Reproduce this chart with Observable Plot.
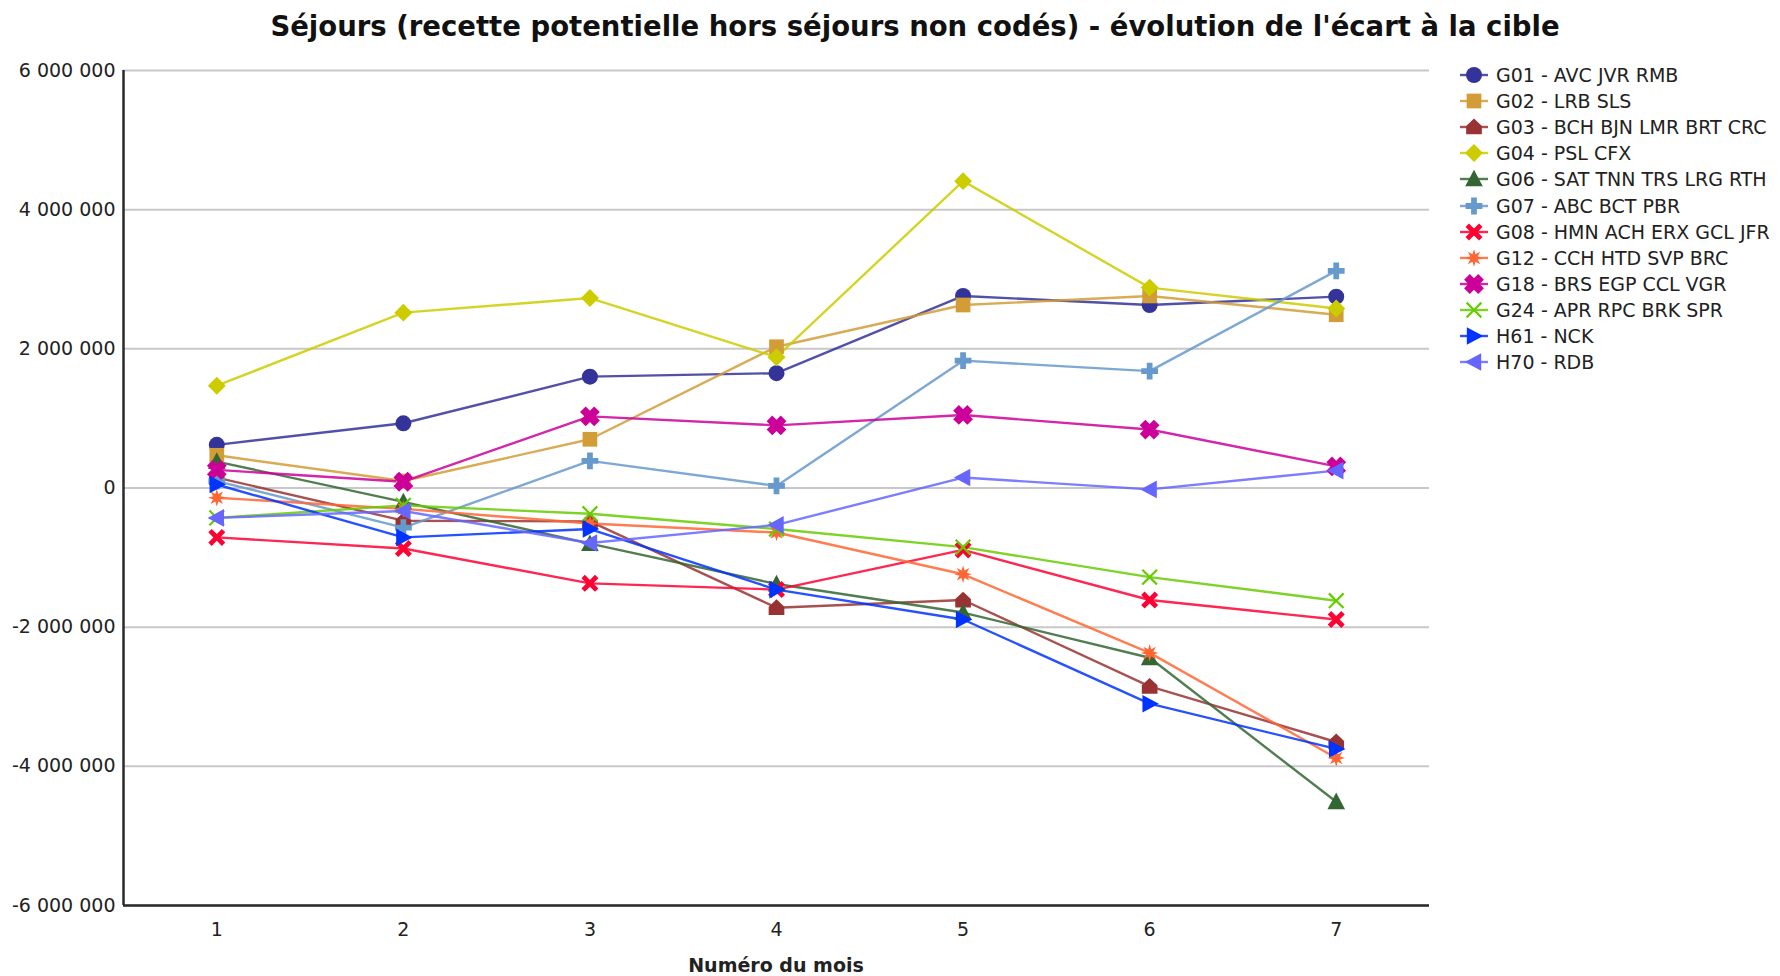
<!DOCTYPE html>
<html>
<head>
<meta charset="utf-8">
<script src="https://cdn.jsdelivr.net/npm/d3@7"></script>
<script src="https://cdn.jsdelivr.net/npm/@observablehq/plot@0.6"></script>
<style>
  html, body { margin: 0; padding: 0; background: #fff; }
  body { width: 1780px; height: 976px; position: relative; overflow: hidden; font-family: "DejaVu Sans", sans-serif; }
  #title { position: absolute; left: 0; top: 0; width: 1780px; text-align: center; padding-left: 50px; box-sizing: border-box;
           font-weight: bold; font-size: 27.5px; line-height: 52px; height: 50px; color: #111; }
  #chart { position: absolute; left: 0; top: 50px; }
  #xlabel { position: absolute; left: 676px; width: 200px; top: 952px; text-align: center; font-weight: bold; font-size: 19px; color: #222; line-height: 26px; }
  #legend { position: absolute; left: 1458px; top: 62px; }
  .row { height: 26.1px; display: flex; align-items: center; font-size: 19px; color: #222; white-space: nowrap; }
  .row svg { margin-right: 6px; }
</style>
</head>
<body>
<div id="title">Séjours (recette potentielle hors séjours non codés) - évolution de l'écart à la cible</div>
<div id="chart"></div>
<div id="xlabel">Numéro du mois</div>
<div id="legend"></div>
<script>
// ---- data ----
const months = [1, 2, 3, 4, 5, 6, 7];
const yTicks = [-6000000, -4000000, -2000000, 0, 2000000, 4000000, 6000000];
const seriesNames = [
  "G01 - AVC JVR RMB", "G02 - LRB SLS", "G03 - BCH BJN LMR BRT CRC", "G04 - PSL CFX",
  "G06 - SAT TNN TRS LRG RTH", "G07 - ABC BCT PBR", "G08 - HMN ACH ERX GCL JFR",
  "G12 - CCH HTD SVP BRC", "G18 - BRS EGP CCL VGR", "G24 - APR RPC BRK SPR",
  "H61 - NCK", "H70 - RDB"
];
const G01 = [620000, 930000, 1600000, 1650000, 2760000, 2630000, 2750000];
const G02 = [470000, 100000, 700000, 2030000, 2630000, 2760000, 2490000];
const G03 = [150000, -470000, -480000, -1720000, -1610000, -2850000, -3650000];
const G04 = [1470000, 2520000, 2730000, 1880000, 4410000, 2880000, 2580000];
const G06 = [380000, -200000, -800000, -1380000, -1790000, -2440000, -4510000];
const G07 = [100000, -570000, 390000, 30000, 1830000, 1680000, 3120000];
const G08 = [-710000, -870000, -1370000, -1460000, -890000, -1610000, -1890000];
const G12 = [-140000, -300000, -510000, -640000, -1240000, -2370000, -3880000];
const G18 = [260000, 90000, 1030000, 900000, 1050000, 840000, 310000];
const G24 = [-430000, -250000, -370000, -590000, -850000, -1280000, -1620000];
const H61 = [50000, -710000, -590000, -1460000, -1890000, -3100000, -3750000];
const H70 = [-430000, -330000, -790000, -530000, 150000, -20000, 250000];
const seriesValues = [G01, G02, G03, G04, G06, G07, G08, G12, G18, G24, H61, H70];

// ---- styles ----
const colors = ["#333399", "#d29c36", "#993333", "#cccc00", "#336633", "#6699cc",
                "#ff0033", "#ff6633", "#cc0099", "#66cc00", "#0033ff", "#6666ff"];

function poly(pts) {
  return { draw(ctx, size) {
    const r = Math.sqrt(size / Math.PI);
    pts.forEach(([x, y], i) => i ? ctx.lineTo(x * r, y * r) : ctx.moveTo(x * r, y * r));
    ctx.closePath();
  }};
}
function plusPts(w, l, rot) {
  const base = [[-w,-l],[w,-l],[w,-w],[l,-w],[l,w],[w,w],[w,l],[-w,l],[-w,w],[-l,w],[-l,-w],[-w,-w]];
  const c = Math.cos(rot), s = Math.sin(rot);
  return base.map(([x, y]) => [x * c - y * s, x * s + y * c]);
}
function starPts(n, ro, ri) {
  const p = [];
  for (let i = 0; i < 2 * n; i++) {
    const a = Math.PI * i / n - Math.PI / 2;
    const r = i % 2 ? ri : ro;
    p.push([r * Math.cos(a), r * Math.sin(a)]);
  }
  return p;
}
const symbols = [
  d3.symbolCircle,
  poly([[-0.92,-0.92],[0.92,-0.92],[0.92,0.92],[-0.92,0.92]]),
  poly([[0,-1.05],[0.98,-0.12],[0.98,0.92],[-0.98,0.92],[-0.98,-0.12]]),
  poly([[0,-1.12],[1.12,0],[0,1.12],[-1.12,0]]),
  poly([[0,-1.15],[1.1,0.92],[-1.1,0.92]]),
  poly(plusPts(0.36, 1.05, 0)),
  poly(plusPts(0.3, 1.2, Math.PI / 4)),
  poly(starPts(8, 1.1, 0.5)),
  poly(plusPts(0.5, 1.25, Math.PI / 4)),
  poly(plusPts(0.14, 1.3, Math.PI / 4)),
  poly([[1.15,0],[-0.9,-1.1],[-0.9,1.1]]),
  poly([[-1.15,0],[0.9,-1.1],[0.9,1.1]])
];

const loc = d3.formatLocale({ decimal: ",", thousands: " ", grouping: [3], currency: ["", "€"], minus: "-" });
const fmt = loc.format(",d");

const rows = seriesNames.map((name, i) =>
  months.map((m, j) => ({ series: name, month: m, value: seriesValues[i][j] })));

const lineMarks = rows.map((data, i) =>
  Plot.line(data, { x: "month", y: "value", stroke: colors[i], strokeWidth: 2.4, strokeOpacity: 0.85 }));
const dotMarks = rows.map((data, i) =>
  Plot.dot(data, { x: "month", y: "value", fill: colors[i], stroke: "none", r: 8, symbol: symbols[i] }));

const chart = Plot.plot({
  width: 1780,
  height: 926,
  marginLeft: 123,
  marginRight: 351,
  marginTop: 20,
  marginBottom: 71,
  style: { fontFamily: "DejaVu Sans, sans-serif", fontSize: "19px", color: "#222", background: "#fff" },
  x: { domain: [0.5, 7.5] },
  y: { domain: [-6000000, 6000000] },
  marks: [
    Plot.gridY(yTicks, { stroke: "#c8c8c8", strokeOpacity: 1, strokeWidth: 2 }),
    Plot.axisY(yTicks, { tickSize: 0, tickPadding: 8, tickFormat: fmt, label: null, fontSize: 19 }),
    Plot.axisX(months, { tickSize: 0, tickPadding: 17, tickFormat: d => String(d), fontSize: 19, label: null }),
    ...lineMarks,
    ...dotMarks,
    Plot.ruleX([0.5], { stroke: "#2a2a2a", strokeWidth: 2.5 }),
    Plot.ruleY([-6000000], { stroke: "#2a2a2a", strokeWidth: 2.5 })
  ]
});
document.getElementById("chart").appendChild(chart);

// legend
const legend = d3.select("#legend");
seriesNames.forEach((name, i) => {
  const row = legend.append("div").attr("class", "row");
  const svg = row.append("svg").attr("width", 32).attr("height", 22);
  svg.append("line").attr("x1", 2).attr("x2", 30).attr("y1", 11).attr("y2", 11)
     .attr("stroke", colors[i]).attr("stroke-width", 2.4).attr("stroke-opacity", 0.85);
  svg.append("path").attr("transform", "translate(16,11)")
     .attr("d", d3.symbol(symbols[i], Math.PI * 64)()).attr("fill", colors[i]);
  row.append("span").text(name);
});
</script>
</body>
</html>
